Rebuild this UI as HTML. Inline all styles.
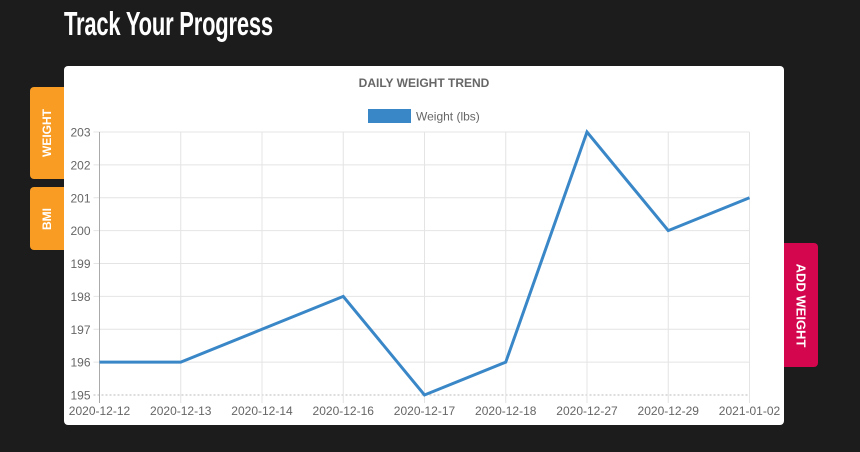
<!DOCTYPE html>
<html><head><meta charset="utf-8">
<style>
html,body{margin:0;padding:0;background:#1c1c1c;width:860px;height:452px;overflow:hidden;font-family:"Liberation Sans",sans-serif;}
#title{position:absolute;left:64px;top:5px;color:#fff;font-family:"Liberation Sans",sans-serif;font-weight:bold;font-size:33px;letter-spacing:-0.3px;transform:scaleX(0.665);transform-origin:left;white-space:nowrap;}
.tab{position:absolute;color:#fff;font-weight:bold;font-size:12px;display:flex;align-items:center;justify-content:center;}
.tab span{display:block;white-space:nowrap;}
#card{position:absolute;left:64px;top:66px;width:720px;height:359px;background:#fff;border-radius:4px;}
svg{position:absolute;left:0;top:0;}
</style></head><body>
<div id="title">Track Your Progress</div>
<div class="tab" style="left:30px;top:87px;width:34px;height:92px;background:#f89c24;border-radius:4px 0 0 4px;"><span style="transform:rotate(-90deg)">WEIGHT</span></div>
<div class="tab" style="left:30px;top:187px;width:34px;height:63px;background:#f89c24;border-radius:4px 0 0 4px;"><span style="transform:rotate(-90deg)">BMI</span></div>
<div id="card"></div>
<div class="tab" style="left:784px;top:243px;width:34px;height:124px;background:#d4064e;border-radius:0 4px 4px 0;font-size:13px;"><span style="transform:rotate(90deg)">ADD WEIGHT</span></div>
<svg id="chart" width="860" height="452"></svg>
<script>
const categories=["2020-12-12","2020-12-13","2020-12-14","2020-12-16","2020-12-17","2020-12-18","2020-12-27","2020-12-29","2021-01-02"];
const weights=[196,196,197,198,195,196,203,200,201];
const yTicks=[195,196,197,198,199,200,201,202,203];
const L=99.5,R=749.5,T=132,B=395,yMin=195,yMax=203;
const svg=document.getElementById('chart');
const NS='http://www.w3.org/2000/svg';
function x(i){return L+(R-L)*i/(categories.length-1);}
function y(v){return B-(B-T)*(v-yMin)/(yMax-yMin);}
function mk(t,a){const e=document.createElementNS(NS,t);for(const k in a)e.setAttribute(k,a[k]);svg.appendChild(e);return e;}
yTicks.forEach(v=>{
  const l=mk('line',{x1:L-6,x2:R,y1:y(v),y2:y(v),stroke:v===yMin?'#bbb':'#e4e4e4','stroke-width':1,'stroke-dasharray':v===yMin?'2,2':'none'});
  
  
  const t=mk('text',{x:L-9,y:y(v)+4.5,'text-anchor':'end','font-size':12,fill:'#666','font-family':'Liberation Sans, sans-serif'});
  t.textContent=v;
  
  
});
categories.forEach((c,i)=>{
  const l=mk('line',{x1:x(i),x2:x(i),y1:T,y2:B+8,stroke:i===0?'#aaa':'#e4e4e4','stroke-width':1});
  
  
  const t=mk('text',{x:x(i),y:B+20,'text-anchor':'middle','font-size':12,fill:'#666','font-family':'Liberation Sans, sans-serif'});
  t.textContent=c;
  
  
});
const p=mk('polyline',{points:weights.map((v,i)=>x(i)+','+y(v)).join(' '),fill:'none',stroke:'#3a87c8','stroke-width':3,'stroke-linejoin':'miter'});


const ti=mk('text',{x:424,y:87,'text-anchor':'middle','font-size':12,'font-weight':'bold',fill:'#666','font-family':'Liberation Sans, sans-serif'});
ti.textContent='DAILY WEIGHT TREND';


const lb=mk('rect',{x:368,y:109,width:43,height:14,fill:'#3a87c8'});


const lt=mk('text',{x:416,y:120.5,'font-size':12,fill:'#666','font-family':'Liberation Sans, sans-serif'});
lt.textContent='Weight (lbs)';


</script>
</body></html>
